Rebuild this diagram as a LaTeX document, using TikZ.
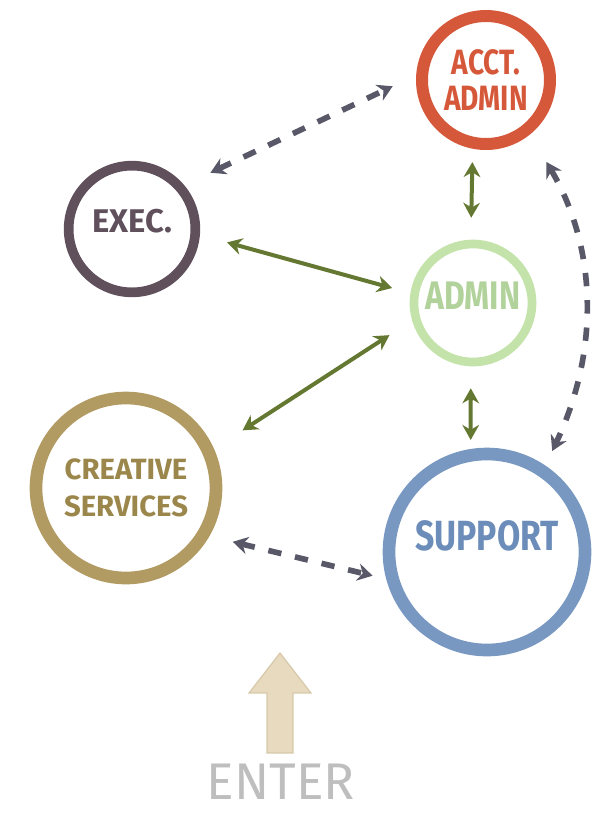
\documentclass[tikz,border=0pt]{standalone}
\usepackage{fontspec}
\setmainfont{Fira Sans}
\newfontfamily\handfont[FakeStretch=0.8]{Fira Sans}
\usepackage{tikz}
\usetikzlibrary{arrows.meta, positioning}

\definecolor{acctred}{RGB}{214,88,58}
\definecolor{execgray}{RGB}{95,80,92}
\definecolor{admingreen}{RGB}{196,227,170}
\definecolor{admintext}{RGB}{178,210,155}
\definecolor{creativegold}{RGB}{178,155,98}
\definecolor{creativetext}{RGB}{155,135,75}
\definecolor{supportblue}{RGB}{120,152,194}
\definecolor{supporttext}{RGB}{108,140,185}
\definecolor{dashgray}{RGB}{88,88,104}
\definecolor{linkgreen}{RGB}{100,120,50}
\definecolor{enterfill}{RGB}{232,218,190}
\definecolor{enterline}{RGB}{215,200,170}
\definecolor{entergray}{RGB}{190,190,190}

\tikzstyle{group} = [circle, draw, inner sep=0, align=center, font=\bfseries]
\tikzstyle{link} = [>={Stealth[length=0.45cm, width=0.5cm]}, <->, draw=linkgreen, line width=0.12cm]
\tikzstyle{loose} = [>={Stealth[length=0.45cm, width=0.52cm]}, <->, draw=dashgray, line width=0.17cm,
                     dash pattern=on 0.4cm off 0.42cm]

\begin{document}
\begin{tikzpicture}[x=0.03cm, y=-0.03cm]
				\useasboundingbox (0, 0) rectangle (594, 829);

				\node (Acct) [group, draw=acctred, text=acctred, line width=0.36cm, minimum size=3.84cm,
				              font={\handfont\bfseries\fontsize{30pt}{31pt}\selectfont}] at (486, 80) {ACCT.\\ADMIN};
				\node (Exec) [group, draw=execgray, text=execgray, line width=0.29cm, minimum size=3.8cm,
				              text depth=0.48cm, font={\bfseries\fontsize{28pt}{30pt}\selectfont}] at (132, 229) {EXEC.};
				\node (Admin) [group, draw=admingreen, text=admintext, line width=0.26cm, minimum size=3.54cm,
				               text depth=0.42cm, font={\handfont\bfseries\fontsize{34pt}{36pt}\selectfont}] at (473, 303) {ADMIN};
				\node (Creative) [group, draw=creativegold, text=creativetext, line width=0.38cm, minimum size=5.4cm,
				                  font={\bfseries\fontsize{25pt}{31pt}\selectfont}] at (126, 488) {CREATIVE\\SERVICES};
				\node (Support) [group, draw=supportblue, text=supporttext, line width=0.38cm, minimum size=5.88cm,
				                 text depth=1cm, font={\handfont\bfseries\fontsize{36pt}{38pt}\selectfont}] at (487, 552) {SUPPORT};

				% dashed links
				\draw [loose, shorten <=0.87cm, shorten >=0.78cm] (Exec.40) -- (Acct.176);
				\draw [loose, shorten <=0.96cm, shorten >=0.48cm] (Acct.-51) to [bend left=28] (Support.56);
				\draw [loose, shorten <=0.72cm, shorten >=0.42cm] (Creative.-30) -- (Support.195);

				% solid links
				\draw [link, shorten <=0.84cm, shorten >=0.57cm] (Exec.-5) -- (Admin.171);
				\draw [link, shorten <=0.4cm, shorten >=0.66cm] (Acct.259) -- (Admin.92);
				\draw [link, shorten <=1.02cm, shorten >=0.81cm] (Creative.24) -- (Admin.196);
				\draw [link, shorten <=0.66cm, shorten >=0.27cm] (Admin.268) -- (Support.99);

				% way in
				\filldraw [fill=enterfill, draw=enterline, line width=1pt]
					(267, 753) -- (267, 693) -- (249, 693) -- (280, 653) -- (311, 693) -- (293, 693) -- (293, 753) -- cycle;
				\node (Enter) [text=entergray, font={\fontsize{44pt}{46pt}\selectfont}] at (281, 782) {ENTER};
			\end{tikzpicture}
\end{document}
